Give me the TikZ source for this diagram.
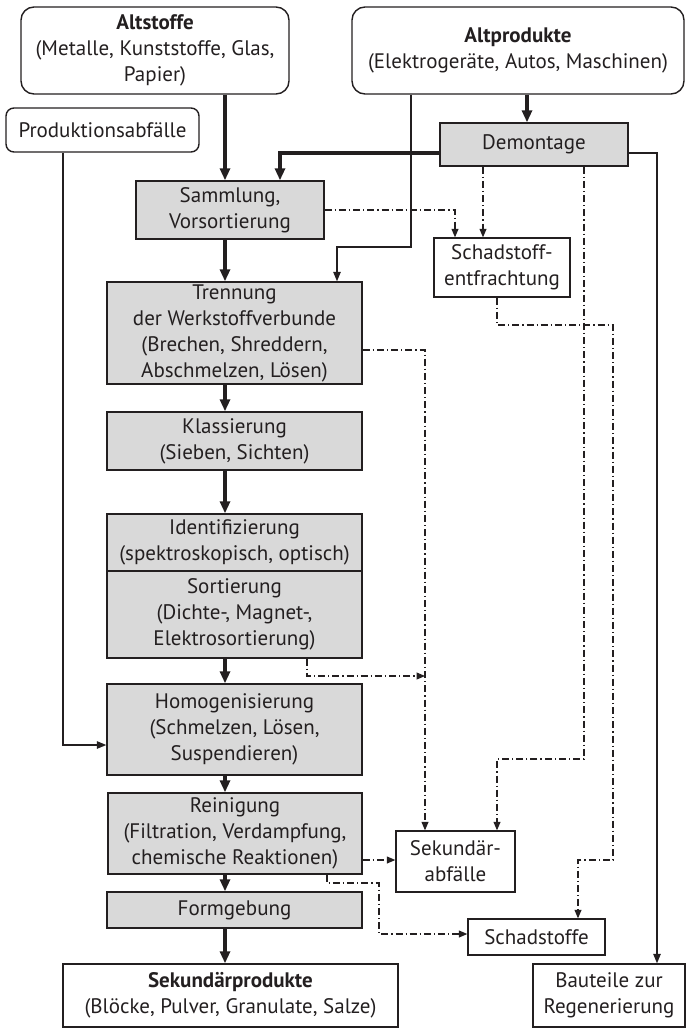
\documentclass[tikz,border=0pt]{standalone}
\usepackage{fontspec}
\setmainfont{PT Sans}
\usetikzlibrary{arrows.meta,calc}
\definecolor{boxgray}{HTML}{D9D9D9}
\definecolor{ink}{HTML}{231F20}
\begin{document}
\begin{tikzpicture}[x=1pt,y=-1pt,
  box/.style={draw=ink, line width=1.4pt, inner sep=0pt, align=center,
    font=\fontsize{21}{26}\selectfont, text=ink},
  grey/.style={box, fill=boxgray},
  rbox/.style={box, rounded corners=13pt},
  thickarr/.style={draw=ink, line width=3.3pt, -{Triangle[length=12pt,width=10pt]}},
  thinarr/.style={draw=ink, line width=1.3pt, -{Triangle[length=9.5pt,width=7.5pt]}},
  dasharr/.style={draw=ink, line width=1.1pt, dash pattern=on 7pt off 3pt on 1.2pt off 3pt,
    -{Triangle[length=8.5pt,width=7pt]}}]
\useasboundingbox (0,0) rectangle (686,1028);

% nodes
\node[rbox, minimum width=268pt, minimum height=87pt] (alts) at (155,50.5)
  {\textbf{Altstoffe}\\(Metalle, Kunststoffe, Glas,\\Papier)};
\node[rbox, minimum width=332pt, minimum height=87pt] (altp) at (518,50.5)
  {\textbf{Altprodukte}\\(Elektrogeräte, Autos, Maschinen)};
\node[box, rounded corners=8pt, minimum width=193pt, minimum height=44pt] (prod) at (102.5,130)
  {Produktionsabfälle};
\node[grey, minimum width=188pt, minimum height=43pt] (dem) at (534,144.5) {Demontage};
\node[grey, minimum width=188pt, minimum height=58pt] (sam) at (230,210) {Sammlung,\\Vorsortierung};
\node[box, minimum width=136pt, minimum height=59pt] (sche) at (502,267.5) {Schadstoff-\\entfrachtung};
\node[grey, minimum width=255pt, minimum height=102pt] (tre) at (234.5,333)
  {Trennung\\der Werkstoffverbunde\\(Brechen, Shreddern,\\Abschmelzen, Lösen)};
\node[grey, minimum width=255pt, minimum height=58pt] (kla) at (234.5,441) {Klassierung\\(Sieben, Sichten)};
\node[grey, minimum width=255pt, minimum height=57pt] (ide) at (234.5,542.5)
  {Identifizierung\\(spektroskopisch, optisch)};
\node[grey, minimum width=255pt, minimum height=87pt] (sor) at (234.5,614.5)
  {Sortierung\\(Dichte-, Magnet-,\\Elektrosortierung)};
\node[grey, minimum width=255pt, minimum height=91pt] (hom) at (234.5,729.5)
  {Homogenisierung\\(Schmelzen, Lösen,\\Suspendieren)};
\node[grey, minimum width=254pt, minimum height=81pt] (rei) at (235,833.5)
  {Reinigung\\(Filtration, Verdampfung,\\chemische Reaktionen)};
\node[grey, minimum width=255pt, minimum height=36pt] (for) at (234.5,910) {Formgebung};
\node[box, minimum width=335pt, minimum height=63pt] (sekp) at (230.5,995.5)
  {\textbf{Sekundärprodukte}\\(Blöcke, Pulver, Granulate, Salze)};
\node[box, minimum width=119pt, minimum height=61pt] (seka) at (455.5,861.5) {Sekundär-\\abfälle};
\node[box, minimum width=137pt, minimum height=36pt] (schs) at (536.5,937) {Schadstoffe};
\node[box, minimum width=152pt, minimum height=63pt] (bau) at (609,995.5) {Bauteile zur\\Regenerierung};

% lanes
\coordinate (xM) at (225,0);
\coordinate (xA) at (527,0);
\coordinate (xB) at (280,0);
\coordinate (xC) at (411,0);
\coordinate (xD) at (337,0);
\coordinate (yC) at (0,247);
\coordinate (yD) at (0,153);
\coordinate (xE) at (657,0);
\coordinate (xF) at (63,0);
\coordinate (yF) at (0,745);
\coordinate (yS) at (0,210);
\coordinate (xS) at (455,0);
\coordinate (xG) at (483,0);
\coordinate (xH) at (584,0);
\coordinate (yH) at (0,759);
\coordinate (xI) at (497,0);
\coordinate (yJ) at (0,325);
\coordinate (xJ) at (613,0);
\coordinate (yK) at (0,860);
\coordinate (xK) at (578,0);
\coordinate (yT) at (0,350);
\coordinate (xT) at (425,0);
\coordinate (xU) at (307,0);
\coordinate (yU) at (0,676);
\coordinate (xV) at (327,0);
\coordinate (yV) at (0,883);
\coordinate (xW) at (379,0);
\coordinate (yW) at (0,934);
\coordinate (sorend) at (xT |- yU);

% main flow
\draw[thickarr] (alts.south -| xM) -- (sam.north -| xM);
\draw[thickarr] (altp.south -| xA) -- (dem.north -| xA);
\draw[thickarr] (dem.west |- yD) -| (sam.north -| xB);
\draw[thickarr] (sam.south -| xM) -- (tre.north -| xM);
\draw[thickarr] (tre.south -| xM) -- (kla.north -| xM);
\draw[thickarr] (kla.south -| xM) -- (ide.north -| xM);
\draw[thickarr] (sor.south -| xM) -- (hom.north -| xM);
\draw[thickarr] (hom.south -| xM) -- (rei.north -| xM);
\draw[thickarr] (rei.south -| xM) -- (for.north -| xM);
\draw[thickarr] (for.south -| xM) -- (sekp.north -| xM);

% thin solid
\draw[thinarr] (altp.south -| xC) -- (xC |- yC) -| (tre.north -| xD);
\draw[thinarr] (dem.east |- yD) -| (bau.north -| xE);
\draw[thinarr] (prod.south -| xF) |- (hom.west |- yF);

% dash-dot
\draw[dasharr] (sam.east |- yS) -| (sche.north -| xS);
\draw[dasharr] (dem.south -| xG) -- (sche.north -| xG);
\draw[dasharr] (dem.south -| xH) -- (xH |- yH) -| (seka.north -| xI);
\draw[dasharr] (sche.south -| xI) -- (xI |- yJ) -- (xJ |- yJ) -- (xJ |- yK) -| (schs.north -| xK);
\draw[dasharr] (tre.east |- yT) -| (seka.north -| xT);
\draw[dasharr] (sor.south -| xU) |- (sorend);
\draw[dasharr] (rei.east |- yK) -- (seka.west |- yK);
\draw[dasharr] (rei.south -| xV) -- (xV |- yV) -| (xW |- yW) -- (schs.west |- yW);
\end{tikzpicture}
\end{document}
